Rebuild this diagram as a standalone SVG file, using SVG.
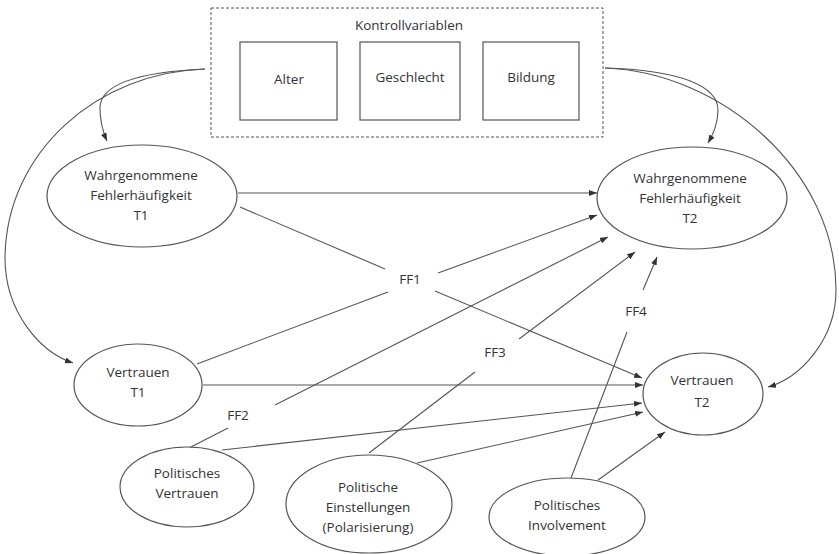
<svg xmlns="http://www.w3.org/2000/svg" width="839" height="554" viewBox="0 0 839 554">
<defs>
<marker id="ah" markerUnits="userSpaceOnUse" markerWidth="9" markerHeight="7" refX="8" refY="3" orient="auto">
<path d="M0,0 L8,3 L0,6 z" fill="#333"/>
</marker>
<style>
.n{fill:#fff;stroke:#555;stroke-width:1.2}
.t{font-family:"Open Sans","Liberation Sans",sans-serif;font-size:13.5px;fill:#333;text-anchor:middle}
.c{fill:none;stroke:#555;stroke-width:1.1}
.a{marker-end:url(#ah)}
</style>
</defs>
<rect width="839" height="554" fill="#fff"/>

<g id="kontrollvariablen">
<rect x="211" y="8" width="392" height="129" fill="none" stroke="#555" stroke-width="1" stroke-dasharray="3,2"/>
<text class="t" x="409" y="30">Kontrollvariablen</text>
</g>
<g id="alter"><rect class="n" x="240" y="42" width="97" height="78"/><text class="t" x="289" y="84">Alter</text></g>
<g id="geschlecht"><rect class="n" x="360" y="42" width="100" height="78"/><text class="t" x="410" y="82">Geschlecht</text></g>
<g id="bildung"><rect class="n" x="483" y="42" width="96" height="78"/><text class="t" x="531" y="82">Bildung</text></g>

<g id="connectors">
<path class="c a" d="M205,69 C140,72 100,84 100,108 C100,122 103,132 107,141"/>
<path class="c a" d="M205,69 C100,72 6,150 5,258 C5,312 40,352 73,363"/>
<path class="c a" d="M605,68 C680,70 718,86 718,110 C718,124 713,134 708,143"/>
<path class="c a" d="M605,68 C720,72 836,170 836,290 C836,340 800,378 768,387"/>
<line class="c a" x1="238" y1="193" x2="597" y2="193"/>
<line class="c" x1="240" y1="207" x2="385" y2="269"/>
<line class="c a" x1="435" y1="291" x2="642" y2="378"/>
<line class="c" x1="197" y1="364" x2="388" y2="292"/>
<line class="c a" x1="438" y1="273" x2="597" y2="215"/>
<line class="c a" x1="203" y1="385" x2="643" y2="385"/>
<line class="c" x1="189" y1="448" x2="228" y2="428"/>
<line class="c a" x1="275" y1="405" x2="608" y2="237"/>
<line class="c a" x1="222" y1="450" x2="642" y2="403"/>
<line class="c" x1="369" y1="453" x2="475" y2="372"/>
<line class="c a" x1="519" y1="339" x2="635" y2="252"/>
<line class="c a" x1="417" y1="463" x2="643" y2="412"/>
<line class="c" x1="571" y1="478" x2="627" y2="332"/>
<line class="c a" x1="643" y1="290" x2="657" y2="257"/>
<line class="c a" x1="598" y1="480" x2="665" y2="432"/>
<text class="t" x="410" y="284">FF1</text>
<text class="t" x="238" y="420">FF2</text>
<text class="t" x="495" y="357">FF3</text>
<text class="t" x="636" y="316">FF4</text>
</g>

<g id="wf_t1"><ellipse class="n" cx="142" cy="196" rx="95" ry="51"/>
<text class="t" x="141" y="180">Wahrgenommene</text><text class="t" x="141" y="200">Fehlerhäufigkeit</text><text class="t" x="141" y="220">T1</text></g>
<g id="wf_t2"><ellipse class="n" cx="692" cy="198" rx="95" ry="51"/>
<text class="t" x="690" y="183">Wahrgenommene</text><text class="t" x="690" y="203">Fehlerhäufigkeit</text><text class="t" x="690" y="223">T2</text></g>
<g id="vertrauen_t1"><ellipse class="n" cx="138" cy="385" rx="64" ry="41"/>
<text class="t" x="138" y="377">Vertrauen</text><text class="t" x="138" y="397">T1</text></g>
<g id="vertrauen_t2"><ellipse class="n" cx="703" cy="394" rx="60" ry="41"/>
<text class="t" x="702" y="385">Vertrauen</text><text class="t" x="702" y="407">T2</text></g>
<g id="pol_vertrauen"><ellipse class="n" cx="187" cy="487" rx="67" ry="40"/>
<text class="t" x="187" y="478">Politisches</text><text class="t" x="187" y="498">Vertrauen</text></g>
<g id="pol_einstellungen"><ellipse class="n" cx="369" cy="504" rx="83" ry="49"/>
<text class="t" x="368" y="492">Politische</text><text class="t" x="368" y="512">Einstellungen</text><text class="t" x="368" y="532">(Polarisierung)</text></g>
<g id="pol_involvement"><ellipse class="n" cx="567" cy="517" rx="78" ry="39"/>
<text class="t" x="567" y="510">Politisches</text><text class="t" x="567" y="530">Involvement</text></g>
</svg>
